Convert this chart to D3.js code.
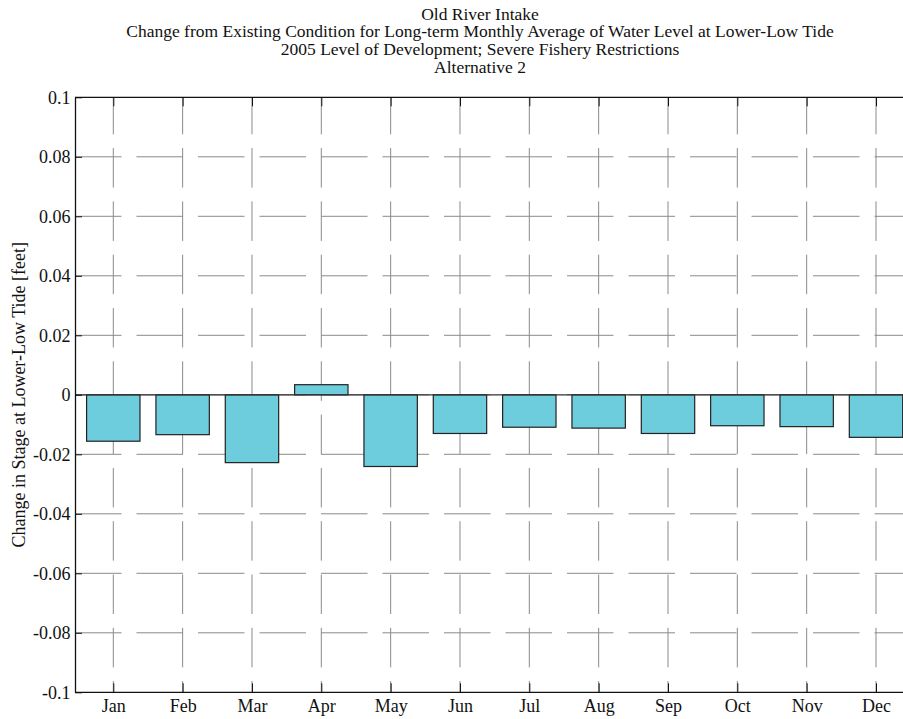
<!DOCTYPE html>
<html>
<head>
<meta charset="utf-8">
<script src="https://cdn.jsdelivr.net/npm/d3@7"></script>
<style>
  html, body { margin: 0; padding: 0; background: #fff; }
  svg { display: block; }
  text { font-family: "Liberation Serif", "Times New Roman", serif; fill: #111; }
</style>
</head>
<body>
<script>
const months = ["Jan","Feb","Mar","Apr","May","Jun","Jul","Aug","Sep","Oct","Nov","Dec"];
const changeFeet = [-0.0156, -0.0134, -0.0228, 0.0034, -0.0241, -0.0130, -0.0109, -0.0112, -0.0130, -0.0104, -0.0107, -0.0143];
const yTicks = [0.1, 0.08, 0.06, 0.04, 0.02, 0, -0.02, -0.04, -0.06, -0.08, -0.1];
const titleLines = [
  "Old River Intake",
  "Change from Existing Condition for Long-term Monthly Average of Water Level at Lower-Low Tide",
  "2005 Level of Development; Severe Fishery Restrictions",
  "Alternative 2"
];
const yLabel = "Change in Stage at Lower-Low Tide [feet]";

const W = 903, H = 719;
const pLeft = 75, pTop = 97.3, pBottom = 692.3, pRight = 912;

const svg = d3.select("body").append("svg").attr("width", W).attr("height", H);

const x = d3.scalePoint().domain(months).range([113.3, 876]);
const step = x.step();
const barW = step * 0.77;
const y = d3.scaleLinear().domain([-0.1, 0.1]).range([pBottom, pTop]);

const fmt = d => d === 0 ? "0" : String(+d.toFixed(2));

// grid lines
const grid = svg.append("g");
grid.selectAll("line.hg").data(yTicks.filter(d => d !== 0.1 && d !== -0.1)).join("line")
  .attr("class", "hg")
  .attr("x1", pLeft).attr("x2", pRight)
  .attr("y1", d => y(d)).attr("y2", d => y(d))
  .attr("stroke", "#8a8a8a").attr("stroke-width", 1)
  .attr("stroke-dasharray", "46.5,15");
grid.selectAll("line.vg").data(months).join("line")
  .attr("class", "vg")
  .attr("x1", d => x(d)).attr("x2", d => x(d))
  .attr("y1", pTop).attr("y2", pBottom)
  .attr("stroke", "#8a8a8a").attr("stroke-width", 1)
  .attr("stroke-dasharray", "39.5,13.8")
  .attr("stroke-dashoffset", 2.5);

// bars
svg.append("g").selectAll("rect").data(months.map((m, i) => ({m, v: changeFeet[i]}))).join("rect")
  .attr("x", d => x(d.m) - barW / 2)
  .attr("width", barW)
  .attr("y", d => y(Math.max(0, d.v)))
  .attr("height", d => Math.abs(y(d.v) - y(0)))
  .attr("fill", "#6ecddd")
  .attr("stroke", "#222")
  .attr("stroke-width", 1.2);

// baseline at zero
svg.append("line")
  .attr("x1", pLeft).attr("x2", pRight)
  .attr("y1", y(0)).attr("y2", y(0))
  .attr("stroke", "#333").attr("stroke-width", 1.3);

// axes
const yAxis = svg.append("g").attr("transform", `translate(${pLeft},0)`)
  .call(d3.axisLeft(y).tickValues(yTicks).tickFormat(fmt).tickSizeInner(-7).tickSizeOuter(0).tickPadding(4.5));
yAxis.select(".domain").attr("stroke", "#111").attr("stroke-width", 1.3);
yAxis.selectAll(".tick line").attr("stroke", "#111");
yAxis.selectAll(".tick text").attr("font-size", "18px").attr("font-family", null).attr("fill", "#111");

const xAxis = svg.append("g").attr("transform", `translate(0,${pBottom})`)
  .call(d3.axisBottom(x).tickSizeInner(-9).tickSizeOuter(0).tickPadding(6.5));
xAxis.select(".domain").attr("d", `M${pLeft},0H${pRight}`).attr("stroke", "#111").attr("stroke-width", 1.3);
xAxis.selectAll(".tick line").attr("stroke", "#111");
xAxis.selectAll(".tick text").attr("font-size", "18px").attr("font-family", null).attr("fill", "#111");

const xTop = svg.append("g").attr("transform", `translate(0,${pTop})`)
  .call(d3.axisTop(x).tickSizeInner(-9).tickSizeOuter(0).tickFormat(""));
xTop.select(".domain").attr("d", `M${pLeft},0H${pRight}`).attr("stroke", "#111").attr("stroke-width", 1.3);
xTop.selectAll(".tick line").attr("stroke", "#111");

// title (slightly smaller glyph height, stretched to the reference's widths)
const titleG = svg.append("g").selectAll("text").data(titleLines).join("text")
  .attr("x", 480).attr("y", (d, i) => 19.5 + i * 17.7)
  .attr("text-anchor", "middle")
  .attr("font-size", "15.8px")
  .text(d => d);
titleG.each(function() {
  const len = this.getComputedTextLength();
  d3.select(this).attr("textLength", len * 17.5 / 15.8).attr("lengthAdjust", "spacingAndGlyphs");
});

// y label
svg.append("text")
  .attr("transform", `translate(24.5,${(pTop + pBottom) / 2}) rotate(-90)`)
  .attr("text-anchor", "middle")
  .attr("font-size", "18px")
  .text(yLabel);
</script>
</body>
</html>
